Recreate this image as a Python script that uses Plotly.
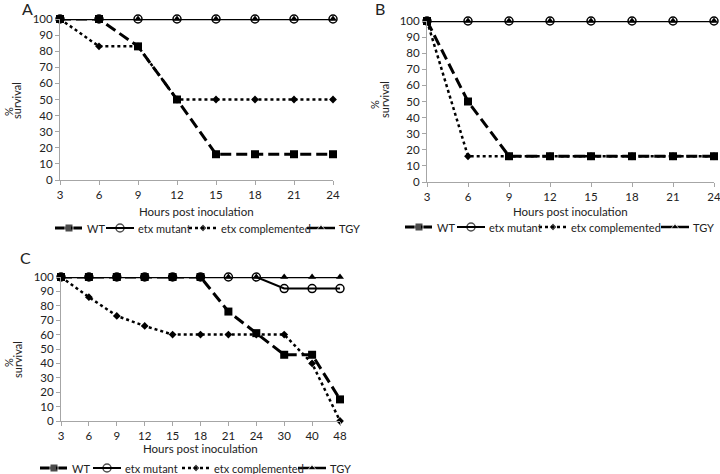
import plotly.graph_objects as go

# ---------------- data ----------------
hours_ab = ["3", "6", "9", "12", "15", "18", "21", "24"]
hours_c = ["3", "6", "9", "12", "15", "18", "21", "24", "30", "40", "48"]

a_wt = [100, 100, 83, 50, 16, 16, 16, 16]
a_mut = [100, 100, 100, 100, 100, 100, 100, 100]
a_comp = [100, 83, 83, 50, 50, 50, 50, 50]
a_tgy = [100, 100, 100, 100, 100, 100, 100, 100]

b_wt = [100, 50, 16, 16, 16, 16, 16, 16]
b_mut = [100, 100, 100, 100, 100, 100, 100, 100]
b_comp = [100, 16, 16, 16, 16, 16, 16, 16]
b_tgy = [100, 100, 100, 100, 100, 100, 100, 100]

c_wt = [100, 100, 100, 100, 100, 100, 76, 61, 46, 46, 15]
c_mut = [100, 100, 100, 100, 100, 100, 100, 100, 92, 92, 92]
c_comp = [100, 86, 73, 66, 60, 60, 60, 60, 60, 40, 0]
c_tgy = [100, 100, 100, 100, 100, 100, 100, 100, 100, 100, 100]

series_names = ["WT", "etx mutant", "etx complemented", "TGY"]
y_ticks = [0, 10, 20, 30, 40, 50, 60, 70, 80, 90, 100]

W, H = 720, 474
FONT = "Lato"
TXT = "#222222"
AX = "#a6a6a6"


def px(x):
    return x / W


def py(y):
    return 1 - y / H


styles = [
    dict(line=dict(color="black", width=3, dash="11px,5px"),
         marker=dict(symbol="square", size=8, color="black")),
    dict(line=dict(color="black", width=2),
         marker=dict(symbol="circle-open", size=8, color="black", line=dict(width=1.5))),
    dict(line=dict(color="black", width=2.5, dash="dot"),
         marker=dict(symbol="diamond", size=6, color="black")),
    dict(line=dict(color="black", width=2.5),
         marker=dict(symbol="triangle-up", size=7, color="black")),
]

panels = [
    dict(x=hours_ab, ys=[a_wt, a_mut, a_comp, a_tgy], px=(60, 333), py=(19, 180),
         letter="A", lx=27, ly=9, pct=(8, 112), surv=(17, 101), tty=211, legy=228, legx=55,
         koff=[0, 51, 134, 252]),
    dict(x=hours_ab, ys=[b_wt, b_mut, b_comp, b_tgy], px=(427, 714), py=(21, 182),
         letter="B", lx=380, ly=9, pct=(375, 105), surv=(385, 100), tty=211, legy=227, legx=405,
         koff=[0, 52, 134, 256]),
    dict(x=hours_c, ys=[c_wt, c_mut, c_comp, c_tgy], px=(61, 340), py=(277, 421),
         letter="C", lx=25, ly=257, pct=(8, 363), surv=(17, 360), tty=448, legy=468, legx=40,
         koff=[0, 53, 142, 258]),
]

key_len = 28
text_gap = 2

fig = go.Figure()
annotations = []
layout = {}
draw_order = [3, 1, 2, 0]  # TGY, mutant, complemented, WT on top
for i, p in enumerate(panels):
    sfx = "" if i == 0 else str(i + 1)
    for k in draw_order:
        st = styles[k]
        fig.add_trace(go.Scatter(
            x=p["x"], y=p["ys"][k], name=series_names[k], mode="lines+markers",
            line=st["line"], marker=st["marker"],
            xaxis="x" + sfx, yaxis="y" + sfx,
            cliponaxis=False, showlegend=False,
        ))
    x0, x1 = p["px"]
    ytop, ybot = p["py"]
    common = dict(showline=True, linecolor=AX, linewidth=1, ticks="outside", ticklen=4,
                  tickcolor=AX, showgrid=False, zeroline=False, automargin=False,
                  tickfont=dict(size=11.5, color=TXT, family=FONT), fixedrange=True)
    layout["xaxis" + sfx] = dict(domain=[px(x0), px(x1)], anchor="y" + sfx, type="category",
                                 range=[0, len(p["x"]) - 1], **common)
    layout["yaxis" + sfx] = dict(domain=[py(ybot), py(ytop)], anchor="x" + sfx,
                                 range=[0, 100], tickvals=y_ticks, **common)
    annotations.append(dict(text=p["letter"], x=px(p["lx"]), y=py(p["ly"]),
                            xref="paper", yref="paper", xanchor="center", yanchor="middle",
                            showarrow=False, font=dict(size=16, color=TXT, family=FONT)))
    annotations.append(dict(text="Hours post inoculation", x=px((x0 + x1) / 2),
                            y=py(p["tty"]), xref="paper", yref="paper",
                            xanchor="center", yanchor="middle", showarrow=False,
                            font=dict(size=11.5, color=TXT, family=FONT)))
    annotations.append(dict(text="%", x=px(p["pct"][0]), y=py(p["pct"][1]),
                            xref="paper", yref="paper", xanchor="center", yanchor="middle",
                            showarrow=False, textangle=-90,
                            font=dict(size=11, color=TXT, family=FONT)))
    annotations.append(dict(text="survival", x=px(p["surv"][0]), y=py(p["surv"][1]),
                            xref="paper", yref="paper", xanchor="center", yanchor="middle",
                            showarrow=False, textangle=-90,
                            font=dict(size=11, color=TXT, family=FONT)))
    # custom legend keys on a pixel overlay axis
    for k, name in enumerate(series_names):
        st = styles[k]
        kx = p["legx"] + p["koff"][k]
        fig.add_trace(go.Scatter(
            x=[kx, kx + key_len / 2, kx + key_len], y=[p["legy"]] * 3,
            mode="lines+markers", line=st["line"],
            marker=dict(st["marker"], size=[0, st["marker"]["size"], 0]),
            xaxis="x10", yaxis="y10", showlegend=False, hoverinfo="skip", cliponaxis=False,
        ))
        annotations.append(dict(text=name, x=px(kx + key_len + text_gap),
                                y=py(p["legy"]), xref="paper", yref="paper",
                                xanchor="left", yanchor="middle", showarrow=False,
                                font=dict(size=11, color=TXT, family=FONT)))

layout["xaxis10"] = dict(domain=[0, 1], range=[0, W], visible=False, fixedrange=True,
                         anchor="y10", automargin=False)
layout["yaxis10"] = dict(domain=[0, 1], range=[H, 0], visible=False, fixedrange=True,
                         anchor="x10", automargin=False)

fig.update_layout(
    width=W, height=H, margin=dict(l=0, r=0, t=0, b=0),
    paper_bgcolor="white", plot_bgcolor="rgba(0,0,0,0)",
    annotations=annotations, showlegend=False, **layout,
)
fig.write_html("out.html", config={"displayModeBar": False},
               post_script="document.body.style.margin='0';document.body.style.overflow='hidden';")
